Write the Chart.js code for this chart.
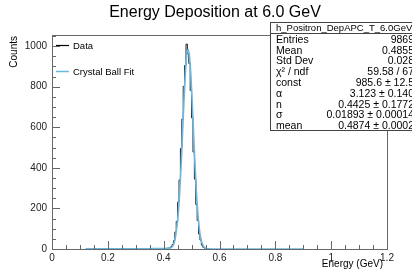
<!DOCTYPE html>
<html>
<head>
<meta charset="utf-8">
<script src="https://cdn.jsdelivr.net/npm/chart.js@4"></script>
<style>
  html, body { margin: 0; padding: 0; background: #fff; overflow: hidden; }
  #wrap { width: 412px; height: 269px; position: relative; }
</style>
</head>
<body>
<div id="wrap"><canvas id="c" width="412" height="269"></canvas></div>
<script>
// histogram bins (low edge, GeV) and counts
const binLow = [0.400, 0.405, 0.410, 0.415, 0.420, 0.425, 0.430, 0.435, 0.440, 0.445,
    0.450, 0.455, 0.460, 0.465, 0.470, 0.475, 0.480, 0.485, 0.490, 0.495,
    0.500, 0.505, 0.510, 0.515, 0.520, 0.525, 0.530, 0.535, 0.540, 0.545,
    0.550, 0.555, 0.560];
const counts = [0, 1, 2, 3, 4, 6, 11, 22, 41, 83,
    136, 231, 340, 495, 640, 802, 905, 1010, 962, 915,
    781, 646, 478, 344, 219, 140, 74, 44, 19, 9,
    4, 1, 0];

// crystal ball fit curve
const fitX = [0.12, 0.20, 0.30, 0.35, 0.38, 0.40, 0.41, 0.42, 0.4275, 0.4325,
    0.4375, 0.4425, 0.4475, 0.4525, 0.4575, 0.4625, 0.4675, 0.4725, 0.4775, 0.4825,
    0.4875, 0.4925, 0.4975, 0.5025, 0.5075, 0.5125, 0.5175, 0.5225, 0.5275, 0.5325,
    0.5375, 0.5425, 0.5475, 0.5525, 0.56, 0.58, 0.70, 0.90];
const fitY = [0.9, 1.0, 1.3, 1.6, 2.0, 2.6, 3.2, 4.3, 6.5, 14,
    30, 61, 110, 180, 282, 412, 567, 725, 862, 955,
    985, 950, 855, 715, 560, 410, 278, 175, 102, 56,
    29, 14, 6, 2.5, 0.5, 0, 0, 0];

const xTicks = [0, 0.2, 0.4, 0.6, 0.8, 1, 1.2];
const yTicks = [0, 200, 400, 600, 800, 1000];

const statsTitle = 'h_Positron_DepAPC_T_6.0GeV';
const statsNames = ['Entries', 'Mean', 'Std Dev', 'χ² / ndf', 'const', 'α', 'n', 'σ', 'mean'];
const statsValues = ['9869', '0.4855', '0.028', '59.58 / 67', '985.6 ± 12.5',
    '3.123 ± 0.140', '0.4425 ± 0.1772', '0.01893 ± 0.00014', '0.4874 ± 0.0002'];

const FONT = '"Liberation Sans", Arial, Helvetica, sans-serif';
const fitColor = '#6ab8e2';

const histPoints = binLow.map((x, i) => ({ x: x, y: counts[i] }));
const fitPoints = fitX.map((x, i) => ({ x: x, y: fitY[i] }));

const rootDecor = {
    id: 'rootDecor',
    afterDatasetsDraw(chart) {
        const ctx = chart.ctx;
        const a = chart.chartArea;
        const xs = chart.scales.x;
        const ys = chart.scales.y;
        ctx.save();
        // frame
        ctx.strokeStyle = '#666';
        ctx.lineWidth = 1;
        ctx.strokeRect(Math.round(a.left) + 0.5, Math.round(a.top) + 0.5,
            Math.round(a.right - a.left), Math.round(a.bottom - a.top));
        // ticks drawn inside the frame
        ctx.beginPath();
        for (let v = 0; v <= 1.2001; v += 0.05) {
            const px = Math.round(xs.getPixelForValue(v)) + 0.5;
            const major = Math.abs(v / 0.2 - Math.round(v / 0.2)) < 1e-6;
            ctx.moveTo(px, a.bottom);
            ctx.lineTo(px, a.bottom - (major ? 8 : 4));
        }
        for (let v = 0; v <= ys.max; v += 50) {
            const py = Math.round(ys.getPixelForValue(v)) + 0.5;
            const major = v % 200 === 0;
            ctx.moveTo(a.left, py);
            ctx.lineTo(a.left + (major ? 8 : 4), py);
        }
        ctx.stroke();

        // title
        ctx.fillStyle = '#000';
        ctx.font = '16px ' + FONT;
        ctx.textAlign = 'center';
        ctx.textBaseline = 'middle';
        ctx.fillText('Energy Deposition at 6.0 GeV', 215, 13);

        // axis titles
        ctx.font = '10px ' + FONT;
        ctx.textAlign = 'right';
        ctx.fillText('Energy (GeV)', 383, 264);
        ctx.save();
        ctx.translate(14, 36);
        ctx.rotate(-Math.PI / 2);
        ctx.fillText('Counts', 0, 0);
        ctx.restore();

        // legend
        ctx.font = '9.5px ' + FONT;
        ctx.textAlign = 'left';
        ctx.lineWidth = 1.2;
        ctx.strokeStyle = '#000';
        ctx.beginPath();
        ctx.moveTo(56, 45.5);
        ctx.lineTo(69, 45.5);
        ctx.stroke();
        ctx.fillText('Data', 73, 46);
        ctx.strokeStyle = fitColor;
        ctx.lineWidth = 1.5;
        ctx.beginPath();
        ctx.moveTo(56, 71.5);
        ctx.lineTo(69, 71.5);
        ctx.stroke();
        ctx.fillText('Crystal Ball Fit', 73, 72);

        // stats box
        const bx = 270.5, by = 22.5, bw = 160, bh = 108;
        ctx.fillStyle = '#fff';
        ctx.fillRect(bx, by, bw, bh);
        ctx.strokeStyle = '#444';
        ctx.lineWidth = 1;
        ctx.strokeRect(bx, by, bw, bh);
        ctx.beginPath();
        ctx.moveTo(bx, by + 11);
        ctx.lineTo(bx + bw, by + 11);
        ctx.stroke();
        ctx.fillStyle = '#000';
        ctx.font = '9.5px ' + FONT;
        ctx.textAlign = 'left';
        ctx.fillText(statsTitle, 276, by + 6);
        ctx.font = '10.5px ' + FONT;
        for (let i = 0; i < statsNames.length; i++) {
            const ry = 40 + i * 10.8;
            ctx.textAlign = 'left';
            ctx.fillText(statsNames[i], 276, ry);
            ctx.textAlign = 'right';
            ctx.fillText(statsValues[i], 414, ry);
        }
        ctx.restore();
    }
};

new Chart(document.getElementById('c'), {
    type: 'line',
    data: {
        datasets: [
            {
                label: 'Crystal Ball Fit',
                data: fitPoints,
                borderColor: fitColor,
                borderWidth: 1.6,
                pointRadius: 0,
                cubicInterpolationMode: 'monotone',
                fill: false,
                order: 1
            },
            {
                label: 'Data',
                data: histPoints,
                borderColor: '#222',
                borderWidth: 1,
                pointRadius: 0,
                stepped: 'after',
                fill: false,
                order: 2
            }
        ]
    },
    options: {
        responsive: false,
        animation: false,
        devicePixelRatio: 1,
        layout: { padding: { left: 0, right: 25, top: 35, bottom: 0 } },
        plugins: {
            legend: { display: false },
            tooltip: { enabled: false },
            title: { display: false }
        },
        scales: {
            x: {
                type: 'linear',
                min: 0,
                max: 1.2,
                afterBuildTicks: s => { s.ticks = xTicks.map(v => ({ value: v })); },
                afterFit: s => { s.height = 20; },
                grid: { display: false, drawTicks: false },
                border: { display: false },
                ticks: {
                    font: { family: FONT, size: 10 },
                    color: '#222',
                    padding: 3,
                    maxRotation: 0,
                    callback: v => String(v)
                }
            },
            y: {
                type: 'linear',
                min: 0,
                max: 1055,
                afterBuildTicks: s => { s.ticks = yTicks.map(v => ({ value: v })); },
                afterFit: s => { s.width = 52; },
                grid: { display: false, drawTicks: false },
                border: { display: false },
                ticks: {
                    font: { family: FONT, size: 10 },
                    color: '#222',
                    padding: 5,
                    callback: v => String(v)
                }
            }
        }
    },
    plugins: [rootDecor]
});
</script>
</body>
</html>
